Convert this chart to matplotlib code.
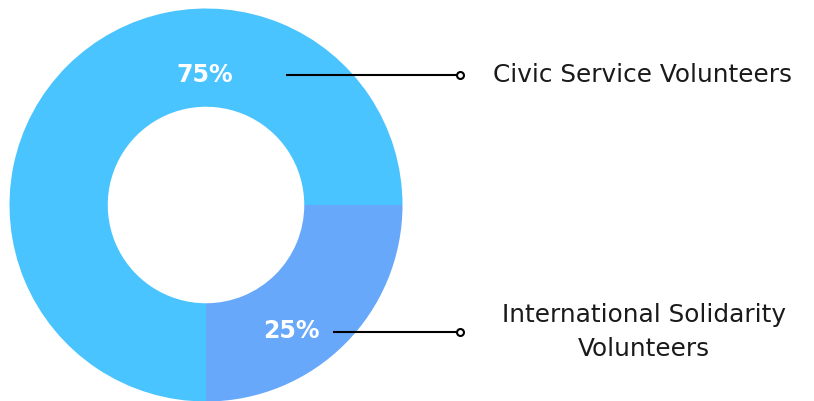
import matplotlib
matplotlib.use('Agg')
import matplotlib.pyplot as plt

# data
categories = ['Civic Service Volunteers', 'International Solidarity\nVolunteers']
shares = [75, 25]
colors = ['#4AC4FF', '#67A8FA']

W, H = 814, 401
fig = plt.figure(figsize=(W / 100, H / 100), dpi=100)
ax = fig.add_axes([0, 0, 1, 1])

# donut, drawn in pixel coords (y up)
cx, cy, r = 206, H - 205, 196.5
ax.pie(shares, colors=colors, startangle=0, counterclock=True,
       center=(cx, cy), radius=r, frame=True,
       wedgeprops=dict(width=r * 0.5, edgecolor='none'))
ax.set_xlim(0, W)
ax.set_ylim(0, H)
ax.set_aspect('equal')
ax.axis('off')

# percentage labels + leader lines
pct_pos = [(205, H - 75), (291, H - 331)]
line_start = [286, 333]
line_y = [H - 75, H - 332]
line_end = 460
for s, (px, py), x0, ly in zip(shares, pct_pos, line_start, line_y):
    ax.text(px, py, f'{s}%', color='white', fontsize=17, fontweight='bold',
            family='DejaVu Sans', ha='center', va='center')
    ax.plot([x0, line_end], [ly, ly], color='black', lw=1.5,
            solid_capstyle='butt', zorder=3)
    ax.plot([line_end], [ly], marker='o', ms=5, mfc='white', mec='black',
            mew=1.5, zorder=4)

# category labels
ax.text(493, H - 75, categories[0], fontsize=17.8, family='DejaVu Sans',
        color='#1a1a1a', ha='left', va='center')
ax.text(644, H - 332, categories[1], fontsize=17.8, family='DejaVu Sans',
        color='#1a1a1a', ha='center', va='center', linespacing=1.55)

fig.savefig('out.png', dpi=100)
